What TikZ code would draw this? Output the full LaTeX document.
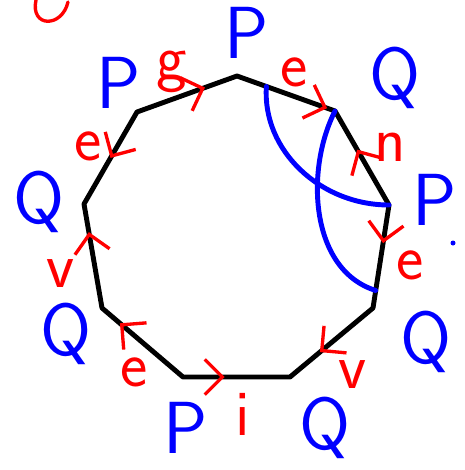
\documentclass[tikz,border=0pt]{standalone}
\usepackage{tikz}
\usetikzlibrary{arrows.meta, calc, decorations.markings}
\tikzset{
  lado/.style={draw=black, line width=2.8pt, line join=round},
  curva/.style={draw=blue, line width=2.8pt, line cap=round},
  flechita/.style={postaction={decorate, decoration={markings,
      mark=at position #1 with {\arrow[red, line width=1.9pt]{Straight Barb[length=10pt, width=20pt]}}}}},
  etiq/.style={text=red, font=\sffamily\fontsize{37}{40}\selectfont, inner sep=0pt},
  vert/.style={text=blue, font=\sffamily\fontsize{42}{46}\selectfont, inner sep=0pt},
}
\begin{document}
\begin{tikzpicture}[x=0.02cm, y=-0.02cm]
  \useasboundingbox (0,0) rectangle (464,470);
  % vertices of the nonagon
  \coordinate (v1) at (237,76);
  \coordinate (v2) at (335,111);
  \coordinate (v3) at (389,205);
  \coordinate (v4) at (373,308);
  \coordinate (v5) at (290,377);
  \coordinate (v6) at (183,377);
  \coordinate (v7) at (102,308);
  \coordinate (v8) at (84,204);
  \coordinate (v9) at (137,112);
  \draw[lado] (v1) -- (v2) -- (v3) -- (v4) -- (v5) -- (v6) -- (v7) -- (v8) -- (v9) -- cycle;
  \foreach \a/\b/\t in {v9/v1/0.68, v1/v2/0.92, v3/v2/0.59, v3/v4/0.37, v4/v5/0.64,
                        v6/v5/0.39, v6/v7/0.78, v7/v8/0.73, v9/v8/0.5}
    \path[flechita=\t] (\a) -- (\b);
  % blue arcs
  \coordinate (c1) at ($(v1)!0.3!(v2)$);
  \coordinate (c2) at ($(v3)!0.83!(v4)$);
  \draw[curva] (c1) .. controls (262,150) and (320,205) .. (v3);
  \draw[curva] (v2) .. controls (305,170) and (310,270) .. (c2);
  % edge labels
  \node[etiq] (lg) at (172,72) {g};
  \node[etiq] (le1) at (294,72) {e};
  \node[etiq] (ln) at (390,147) {n};
  \node[etiq] (le2) at (410,265) {e};
  \node[etiq] (lv1) at (353,375) {v};
  \node[etiq] (li) at (243,414) {i};
  \node[etiq] (le3) at (134,372) {e};
  \node[etiq] (lv2) at (61,274) {v};
  \node[etiq] (le4) at (88,146) {e};
  % vertex labels
  \node[vert] (p1) at (247,33) {P};
  \node[vert] (q2) at (395,78) {Q};
  \node[vert] (p3) at (435,200) {P};
  \node[vert] (q4) at (426,342) {Q};
  \node[vert] (q5) at (325,428) {Q};
  \node[vert] (p6) at (186,428) {P};
  \node[vert] (q7) at (66,334) {Q};
  \node[vert] (q8) at (39,202) {Q};
  \node[vert] (p9) at (119,83) {P};
  \fill[blue] (453,243) circle (2.5);
  % cut-off mark at the top
  \draw[red, line width=1.9pt, line cap=round] (36,0) .. controls (30,28) and (62,28) .. (68,2);
\end{tikzpicture}
\end{document}
